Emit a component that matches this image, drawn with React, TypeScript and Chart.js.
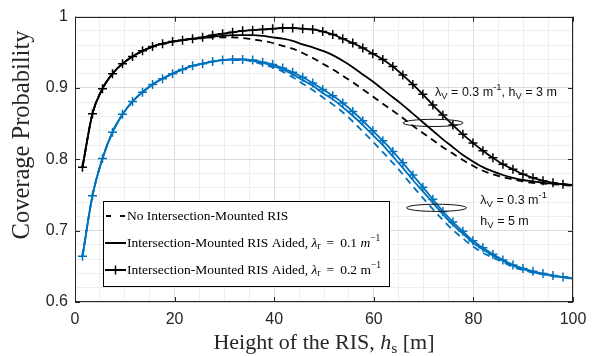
import React, { useEffect, useRef } from "react";
import { Chart, registerables } from "chart.js";
Chart.register(...registerables);

// Height of the RIS (m)
const heights = [1.5, 3.51, 5.52, 7.53, 9.54, 11.55, 13.56, 15.57, 17.58, 19.59, 21.6, 23.61, 25.62, 27.63, 29.64, 31.65, 33.66, 35.67, 37.68, 39.69, 41.7, 43.71, 45.72, 47.73, 49.74, 51.76, 53.77, 55.78, 57.79, 59.8, 61.81, 63.82, 65.83, 67.84, 69.85, 71.86, 73.87, 75.88, 77.89, 79.9, 81.91, 83.92, 85.93, 87.94, 89.95, 91.96, 93.97, 95.98, 97.99, 100];

// hV = 3 m (black)
const noRisH3 = [0.789, 0.864, 0.899, 0.920, 0.934, 0.944, 0.952, 0.958, 0.962, 0.965, 0.967, 0.969, 0.970, 0.971, 0.971, 0.971, 0.970, 0.968, 0.966, 0.963, 0.959, 0.955, 0.949, 0.942, 0.934, 0.926, 0.917, 0.908, 0.898, 0.888, 0.878, 0.868, 0.858, 0.847, 0.837, 0.827, 0.817, 0.808, 0.799, 0.791, 0.784, 0.779, 0.775, 0.772, 0.769, 0.767, 0.766, 0.765, 0.764, 0.763];
const lr01H3 = [0.789, 0.864, 0.899, 0.920, 0.934, 0.944, 0.952, 0.958, 0.962, 0.965, 0.967, 0.969, 0.970, 0.972, 0.973, 0.974, 0.974, 0.974, 0.973, 0.971, 0.969, 0.966, 0.961, 0.957, 0.952, 0.946, 0.938, 0.929, 0.919, 0.909, 0.898, 0.887, 0.876, 0.864, 0.852, 0.840, 0.828, 0.817, 0.806, 0.797, 0.789, 0.783, 0.778, 0.774, 0.771, 0.769, 0.767, 0.766, 0.765, 0.764];
const lr02H3 = [0.789, 0.864, 0.899, 0.920, 0.934, 0.944, 0.952, 0.958, 0.962, 0.965, 0.967, 0.969, 0.971, 0.974, 0.976, 0.978, 0.980, 0.981, 0.982, 0.983, 0.984, 0.984, 0.983, 0.982, 0.979, 0.975, 0.969, 0.963, 0.956, 0.948, 0.940, 0.930, 0.918, 0.905, 0.891, 0.876, 0.862, 0.848, 0.835, 0.823, 0.812, 0.802, 0.793, 0.786, 0.779, 0.774, 0.770, 0.767, 0.765, 0.764];

// hV = 5 m (blue)
const noRisH5 = [0.664, 0.749, 0.801, 0.838, 0.863, 0.881, 0.894, 0.905, 0.913, 0.920, 0.926, 0.931, 0.934, 0.937, 0.939, 0.939, 0.939, 0.937, 0.933, 0.929, 0.923, 0.915, 0.906, 0.897, 0.887, 0.877, 0.866, 0.853, 0.839, 0.825, 0.810, 0.795, 0.779, 0.762, 0.746, 0.730, 0.715, 0.701, 0.689, 0.678, 0.669, 0.662, 0.656, 0.649, 0.645, 0.641, 0.639, 0.636, 0.635, 0.633];
const lr01H5 = [0.664, 0.749, 0.801, 0.838, 0.863, 0.881, 0.894, 0.905, 0.913, 0.920, 0.926, 0.931, 0.934, 0.937, 0.939, 0.940, 0.940, 0.938, 0.935, 0.931, 0.926, 0.919, 0.911, 0.903, 0.893, 0.884, 0.873, 0.861, 0.848, 0.834, 0.820, 0.804, 0.788, 0.771, 0.755, 0.739, 0.723, 0.708, 0.696, 0.683, 0.674, 0.665, 0.658, 0.651, 0.646, 0.642, 0.639, 0.637, 0.635, 0.633];
const lr02H5 = [0.664, 0.749, 0.801, 0.838, 0.863, 0.881, 0.894, 0.905, 0.913, 0.920, 0.926, 0.931, 0.934, 0.937, 0.939, 0.940, 0.940, 0.939, 0.936, 0.933, 0.928, 0.922, 0.915, 0.907, 0.898, 0.889, 0.879, 0.867, 0.854, 0.840, 0.826, 0.811, 0.795, 0.778, 0.761, 0.744, 0.727, 0.712, 0.699, 0.686, 0.676, 0.667, 0.659, 0.652, 0.647, 0.643, 0.640, 0.637, 0.635, 0.633];

const xMajor = [0, 20, 40, 60, 80, 100];
const yMajor = [0.6, 0.7, 0.8, 0.9, 1];

const legendLabels = [
  "No Intersection-Mounted RIS",
  "Intersection-Mounted RIS Aided, ",
  "Intersection-Mounted RIS Aided, ",
];

const BLUE = "#0072BD";
const AXIS = "#262626";
const SERIF = "'Liberation Serif', serif";
const SANS = "'Liberation Sans', Arial, sans-serif";

type Run = { t: string; f: string; dy?: number };

function runsWidth(ctx: CanvasRenderingContext2D, runs: Run[]) {
  let w = 0;
  for (const r of runs) {
    ctx.font = r.f;
    w += ctx.measureText(r.t).width;
  }
  return w;
}
function drawRuns(ctx: CanvasRenderingContext2D, runs: Run[], x: number, y: number, align: "left" | "center" = "left") {
  let cx = align === "center" ? x - runsWidth(ctx, runs) / 2 : x;
  ctx.textAlign = "left";
  for (const r of runs) {
    ctx.font = r.f;
    ctx.fillText(r.t, cx, y + (r.dy || 0));
    cx += ctx.measureText(r.t).width;
  }
}

const pts = (ys: number[]) => heights.map((x, i) => ({ x, y: ys[i] }));

const overlay = {
  id: "overlay",
  afterDraw(chart: any) {
    const { ctx, chartArea: a, scales } = chart;
    const xs = scales.x;
    const ys = scales.y;
    ctx.save();
    // axes box
    ctx.strokeStyle = AXIS;
    ctx.lineWidth = 1;
    ctx.setLineDash([]);
    ctx.strokeRect(Math.round(a.left) + 0.5, Math.round(a.top) + 0.5, Math.round(a.right - a.left) - 1, Math.round(a.bottom - a.top) - 1);
    // inward ticks
    const TL = 5;
    ctx.beginPath();
    for (const v of xMajor) {
      const px = Math.round(xs.getPixelForValue(v)) + 0.5;
      ctx.moveTo(px, a.bottom);
      ctx.lineTo(px, a.bottom - TL);
      ctx.moveTo(px, a.top);
      ctx.lineTo(px, a.top + TL);
    }
    for (const v of yMajor) {
      const py = Math.round(ys.getPixelForValue(v)) + 0.5;
      ctx.moveTo(a.left, py);
      ctx.lineTo(a.left + TL, py);
      ctx.moveTo(a.right, py);
      ctx.lineTo(a.right - TL, py);
    }
    ctx.stroke();

    // annotations
    ctx.strokeStyle = "#111";
    ctx.lineWidth = 1;
    const ell = (cx: number, cy: number) => {
      const px = xs.getPixelForValue(cx);
      const py = ys.getPixelForValue(cy);
      ctx.beginPath();
      ctx.ellipse(px, py, 30, 3.6, 0, 0, Math.PI * 2);
      ctx.stroke();
    };
    ell(71.9, 0.851);
    ell(72.6, 0.732);

    ctx.fillStyle = "#111";
    ctx.textBaseline = "middle";
    const F = `12.5px ${SANS}`;
    const FS = `9.5px ${SANS}`;
    drawRuns(ctx, [
      { t: "λ", f: F }, { t: "V", f: FS, dy: 4 }, { t: " = 0.3 m", f: F }, { t: "-1", f: FS, dy: -5 },
      { t: ", h", f: F }, { t: "V", f: FS, dy: 4 }, { t: " = 3 m", f: F },
    ], xs.getPixelForValue(72.3), ys.getPixelForValue(0.894));
    drawRuns(ctx, [
      { t: "λ", f: F }, { t: "V", f: FS, dy: 4 }, { t: " = 0.3 m", f: F }, { t: "-1", f: FS, dy: -5 },
    ], xs.getPixelForValue(81.4), ys.getPixelForValue(0.742));
    drawRuns(ctx, [
      { t: "h", f: F }, { t: "V", f: FS, dy: 4 }, { t: " = 5 m", f: F },
    ], xs.getPixelForValue(81.4), ys.getPixelForValue(0.713));

    // legend
    const L = 103.5, T = 201.5, R = 389.5, B = 286.5;
    ctx.fillStyle = "#fff";
    ctx.fillRect(L, T, R - L, B - T);
    ctx.strokeStyle = "#000";
    ctx.lineWidth = 1;
    ctx.strokeRect(L, T, R - L, B - T);
    const rows = [216, 243, 270];
    ctx.lineWidth = 1.8;
    ctx.strokeStyle = "#000";
    ctx.setLineDash([5, 9]);
    ctx.beginPath();
    ctx.moveTo(106, rows[0]); ctx.lineTo(126, rows[0]);
    ctx.stroke();
    ctx.setLineDash([]);
    ctx.beginPath();
    ctx.moveTo(105, rows[1]); ctx.lineTo(126, rows[1]);
    ctx.moveTo(105, rows[2]); ctx.lineTo(126, rows[2]);
    ctx.stroke();
    ctx.lineWidth = 1.5;
    ctx.beginPath();
    ctx.moveTo(115.5, rows[2] - 4.5); ctx.lineTo(115.5, rows[2] + 4.5);
    ctx.moveTo(111, rows[2]); ctx.lineTo(120, rows[2]);
    ctx.stroke();

    ctx.fillStyle = "#000";
    const LF = `13.5px ${SERIF}`;
    const LFI = `italic 13.5px ${SERIF}`;
    const LFS = `9.5px ${SERIF}`;
    drawRuns(ctx, [{ t: legendLabels[0], f: LF }], 127, rows[0]);
    drawRuns(ctx, [
      { t: legendLabels[1], f: LF }, { t: "λ", f: LFI }, { t: "r", f: LFS, dy: 3 },
      { t: " \u2009= \u20090.1 ", f: LF }, { t: "m", f: LFI }, { t: "−1", f: LFS, dy: -5 },
    ], 127, rows[1]);
    drawRuns(ctx, [
      { t: legendLabels[2], f: LF }, { t: "λ", f: LFI }, { t: "r", f: LFS, dy: 3 },
      { t: " \u2009= \u20090.2 m", f: LF }, { t: "−1", f: LFS, dy: -5 },
    ], 127, rows[2]);

    // axis titles
    ctx.fillStyle = AXIS;
    ctx.textBaseline = "alphabetic";
    const TF = `22px ${SERIF}`;
    const TFI = `italic 22px ${SERIF}`;
    const TFS = `15.5px ${SERIF}`;
    drawRuns(ctx, [
      { t: "Height of the RIS, ", f: TF }, { t: "h", f: TFI }, { t: "s", f: TFS, dy: 4 }, { t: " [m]", f: TF },
    ], (a.left + a.right) / 2, 349, "center");
    ctx.translate(29, 135);
    ctx.rotate(-Math.PI / 2);
    drawRuns(ctx, [{ t: "Coverage Probability", f: `24.5px ${SERIF}` }], 0, 0, "center");
    ctx.restore();
  },
};

export default function App() {
  const ref = useRef<HTMLCanvasElement>(null);
  useEffect(() => {
    if (!ref.current) return;
    const line = (data: number[], color: string, dash: number[], marker: boolean) => ({
      data: pts(data),
      borderColor: color,
      backgroundColor: color,
      borderWidth: 1.8,
      borderDash: dash,
      pointStyle: "cross" as const,
      pointRadius: marker ? 4.5 : 0,
      pointBorderWidth: 1.5,
      pointBorderColor: color,
      cubicInterpolationMode: "monotone" as const,
      fill: false,
    });
    const chart = new Chart(ref.current, {
      type: "line",
      data: {
        datasets: [
          line(lr02H3, "#000", [], true),
          line(lr01H3, "#000", [], false),
          line(noRisH3, "#000", [7, 5], false),
          line(lr02H5, BLUE, [], true),
          line(lr01H5, BLUE, [], false),
          line(noRisH5, BLUE, [7, 5], false),
        ],
      },
      options: {
        responsive: false,
        animation: false,
        devicePixelRatio: 1,
        layout: { padding: { top: 13, right: 29, left: 0, bottom: 0 } },
        plugins: { legend: { display: false }, tooltip: { enabled: false } },
        scales: {
          x: {
            type: "linear",
            min: 0,
            max: 100,
            afterFit: (s: any) => { s.height = 54; },
            grid: {
              drawTicks: false,
              color: (c: any) => (c.tick && c.tick.value % 20 === 0 ? "#dcdcdc" : "#eeeeee"),
            },
            border: { display: false },
            ticks: {
              stepSize: 5,
              autoSkip: false,
              maxRotation: 0,
              padding: 8,
              color: AXIS,
              font: { family: SANS, size: 16 },
              callback: (v: any) => (Number(v) % 20 === 0 ? String(v) : ""),
            },
          },
          y: {
            type: "linear",
            min: 0.6,
            max: 1,
            afterFit: (s: any) => { s.width = 75; },
            grid: {
              drawTicks: false,
              color: (c: any) => (c.tick && Math.round(c.tick.value * 100) % 10 === 0 ? "#dcdcdc" : "#eeeeee"),
            },
            border: { display: false },
            ticks: {
              stepSize: 0.02,
              autoSkip: false,
              padding: 7,
              color: AXIS,
              font: { family: SANS, size: 16 },
              callback: (v: any) => {
                const r = Math.round(Number(v) * 100);
                return r % 10 === 0 ? String(r / 100) : "";
              },
            },
          },
        },
      },
      plugins: [overlay],
    });
    return () => chart.destroy();
  }, []);
  return (
    <div style={{ position: "fixed", left: 0, top: 0, width: 602, height: 356, background: "#fff" }}>
      <canvas ref={ref} width={602} height={356} style={{ width: 602, height: 356 }} />
    </div>
  );
}
